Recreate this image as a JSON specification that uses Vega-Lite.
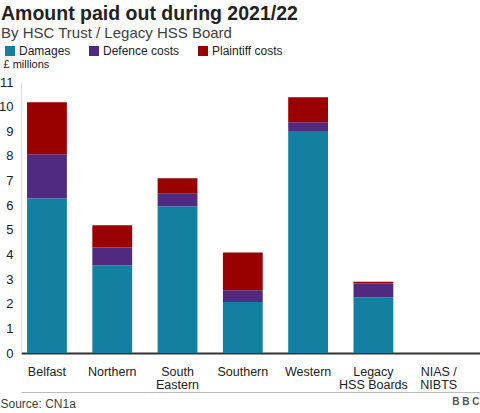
{
  "$schema": "https://vega.github.io/schema/vega-lite/v6.json",
  "width": 459,
  "height": 271,
  "autosize": {"type": "none"},
  "padding": {"left": 21, "top": 82, "right": 0, "bottom": 60},
  "background": "white",
  "title": {
    "text": "Amount paid out during 2021/22",
    "subtitle": "By HSC Trust / Legacy HSS Board",
    "anchor": "start",
    "frame": "group",
    "dx": -20,
    "offset": 3,
    "font": "Liberation Sans",
    "fontSize": 19.5,
    "fontWeight": "bold",
    "color": "#222222",
    "subtitleFont": "Liberation Sans",
    "subtitleFontSize": 15,
    "subtitleColor": "#404040",
    "subtitlePadding": 2
  },
  "data": {
    "values": [
      {"org": "Belfast", "type": "Damages", "amount": 6.28},
      {"org": "Belfast", "type": "Defence costs", "amount": 1.79},
      {"org": "Belfast", "type": "Plaintiff costs", "amount": 2.11},
      {"org": "Northern", "type": "Damages", "amount": 3.56},
      {"org": "Northern", "type": "Defence costs", "amount": 0.72},
      {"org": "Northern", "type": "Plaintiff costs", "amount": 0.91},
      {"org": "South Eastern", "type": "Damages", "amount": 5.96},
      {"org": "South Eastern", "type": "Defence costs", "amount": 0.5},
      {"org": "South Eastern", "type": "Plaintiff costs", "amount": 0.63},
      {"org": "Southern", "type": "Damages", "amount": 2.07},
      {"org": "Southern", "type": "Defence costs", "amount": 0.48},
      {"org": "Southern", "type": "Plaintiff costs", "amount": 1.53},
      {"org": "Western", "type": "Damages", "amount": 8.98},
      {"org": "Western", "type": "Defence costs", "amount": 0.39},
      {"org": "Western", "type": "Plaintiff costs", "amount": 1.01},
      {"org": "Legacy HSS Boards", "type": "Damages", "amount": 2.25},
      {"org": "Legacy HSS Boards", "type": "Defence costs", "amount": 0.57},
      {"org": "Legacy HSS Boards", "type": "Plaintiff costs", "amount": 0.07},
      {"org": "NIAS / NIBTS", "type": "Damages", "amount": 0},
      {"org": "NIAS / NIBTS", "type": "Defence costs", "amount": 0},
      {"org": "NIAS / NIBTS", "type": "Plaintiff costs", "amount": 0}
    ]
  },
  "layer": [
    {
      "mark": {"type": "bar"},
      "encoding": {
        "x": {
          "field": "org",
          "type": "nominal",
          "sort": null,
          "scale": {"paddingInner": 0.39, "paddingOuter": 0.21, "align": 0.22},
          "axis": {
            "title": "B B C",
            "titleFont": "Liberation Sans",
            "titleFontSize": 10,
            "titleFontWeight": "bold",
            "titleColor": "#555555",
            "titleAlign": "right",
            "titleAnchor": null,
            "titleBaseline": "alphabetic",
            "titleX": 458,
            "titleY": 51,
            "labelAngle": 0,
            "labelFont": "Liberation Sans",
            "labelFontSize": 12.5,
            "labelColor": "#222222",
            "labelPadding": 12,
            "labelLineHeight": 13,
            "labelExpr": "datum.label == 'South Eastern' ? ['South', 'Eastern'] : datum.label == 'Legacy HSS Boards' ? ['Legacy', 'HSS Boards'] : datum.label == 'NIAS / NIBTS' ? ['NIAS /', 'NIBTS'] : datum.label",
            "ticks": false,
            "domainColor": "#333333",
            "domainWidth": 2
          }
        },
        "y": {
          "field": "amount",
          "type": "quantitative",
          "stack": "zero",
          "scale": {"domain": [0, 11], "nice": false},
          "axis": {
            "title": "£ millions",
            "titleFont": "Liberation Sans",
            "titleFontSize": 11,
            "titleFontWeight": "normal",
            "titleColor": "#222222",
            "titleAngle": 0,
            "titleAlign": "left",
            "titleAnchor": null,
            "titleBaseline": "alphabetic",
            "titleX": -18,
            "titleY": -15,
            "values": [0, 1, 2, 3, 4, 5, 6, 7, 8, 9, 10, 11],
            "labelFont": "Liberation Sans",
            "labelFontSize": 13,
            "labelColor": "#222222",
            "labelPadding": 8,
            "ticks": false,
            "grid": false,
            "domainColor": "#dddddd"
          }
        },
        "color": {
          "field": "type",
          "type": "nominal",
          "scale": {
            "domain": ["Damages", "Defence costs", "Plaintiff costs"],
            "range": ["#1380A1", "#4f2a80", "#990000"]
          },
          "legend": {
            "title": null,
            "orient": "none",
            "direction": "horizontal",
            "legendX": -17,
            "legendY": -37,
            "symbolType": "square",
            "symbolSize": 100,
            "symbolStrokeWidth": 0,
            "symbolOpacity": 1,
            "labelFont": "Liberation Sans",
            "labelFontSize": 12,
            "labelColor": "#222222",
            "labelOffset": 3,
            "columnPadding": 17
          }
        },
        "order": {"field": "type", "sort": "ascending"}
      }
    },
    {
      "mark": {"type": "tick", "opacity": 0},
      "encoding": {
        "x": {
          "field": "org",
          "type": "nominal",
          "sort": null,
          "axis": {
            "orient": "bottom",
            "offset": 39,
            "labels": false,
            "ticks": false,
            "domainColor": "#bbbbbb",
            "domainWidth": 1,
            "title": "Source: CN1a",
            "titleFont": "Liberation Sans",
            "titleFontSize": 12,
            "titleFontWeight": "normal",
            "titleColor": "#404040",
            "titleAlign": "left",
            "titleAnchor": null,
            "titleBaseline": "alphabetic",
            "titleX": -21,
            "titleY": 15
          }
        }
      }
    }
  ],
  "resolve": {"axis": {"x": "independent"}},
  "config": {"view": {"stroke": null}}
}
